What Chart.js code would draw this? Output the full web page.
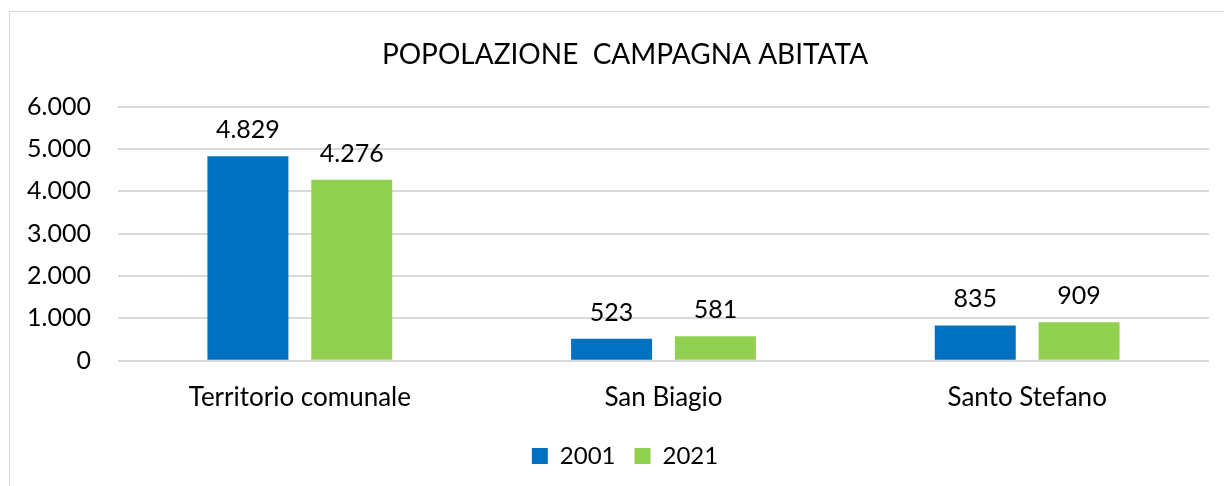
<!DOCTYPE html>
<html>
<head>
<meta charset="utf-8">
<script src="https://cdn.jsdelivr.net/npm/chart.js@4.4.1/dist/chart.umd.min.js"></script>
<style>
  html, body { margin: 0; padding: 0; background: #fff; }
  #wrap { position: relative; width: 1224px; height: 486px; overflow: hidden; }
  #frame { position: absolute; left: 9px; top: 11px; width: 1300px; height: 600px; border: 1px solid #d9d9d9; box-sizing: border-box; }
  #chart { position: absolute; left: 0; top: 0; }
</style>
</head>
<body>
<div id="wrap">
  <div id="frame"></div>
  <canvas id="chart" width="1224" height="486"></canvas>
</div>
<script>
const categories = ["Territorio comunale", "San Biagio", "Santo Stefano"];
const years = ["2001", "2021"];
const pop2001 = [4829, 523, 835];
const pop2021 = [4276, 581, 909];
const colors = ["#0070C0", "#92D050"];

const FONT = "Lato, 'Open Sans', sans-serif";

function fmt(v) {
  return String(v).replace(/\B(?=(\d{3})+(?!\d))/g, ".");
}

// draws the value above every bar
const barLabels = {
  id: "barLabels",
  afterDatasetsDraw(chart) {
    const ctx = chart.ctx;
    ctx.save();
    ctx.font = "25px " + FONT;
    ctx.fillStyle = "#000";
    ctx.textAlign = "center";
    ctx.textBaseline = "alphabetic";
    chart.data.datasets.forEach((ds, i) => {
      chart.getDatasetMeta(i).data.forEach((bar, j) => {
        ctx.fillText(fmt(ds.data[j]), bar.x, bar.y - 18);
      });
    });
    ctx.restore();
  }
};

// title and legend are centred on the whole frame, not on the plot
const centreBlocks = {
  id: "centreBlocks",
  afterLayout(chart) {
    if (chart.titleBlock) chart.titleBlock.left += 41;
    if (chart.legend) chart.legend.left += 41;
  }
};

new Chart(document.getElementById("chart"), {
  type: "bar",
  data: {
    labels: categories,
    datasets: [
      { label: years[0], data: pop2001, backgroundColor: colors[0] },
      { label: years[1], data: pop2021, backgroundColor: colors[1] }
    ]
  },
  options: {
    responsive: false,
    animation: false,
    categoryPercentage: 0.571,
    barPercentage: 0.78,
    layout: { padding: { left: 0, right: 15, top: 10, bottom: 8 } },
    plugins: {
      title: {
        display: true,
        text: "POPOLAZIONE  CAMPAGNA ABITATA",
        color: "#000",
        font: { family: FONT, size: 28, weight: "normal" },
        padding: { top: 28, bottom: 35 }
      },
      legend: {
        position: "bottom",
        labels: {
          color: "#000",
          font: { family: FONT, size: 24 },
          boxWidth: 16,
          boxHeight: 16,
          padding: 19
        }
      },
      tooltip: { enabled: false }
    },
    scales: {
      x: {
        grid: { display: false },
        border: { display: false },
        ticks: { color: "#000", font: { family: FONT, size: 26 }, padding: 13 },
        afterFit: scale => { scale.height -= 1; }
      },
      y: {
        min: 0,
        max: 6000,
        ticks: {
          stepSize: 1000,
          color: "#000",
          font: { family: FONT, size: 25 },
          padding: 27,
          callback: v => fmt(v)
        },
        grid: { color: "#d9d9d9", lineWidth: 2, drawTicks: false },
        border: { display: false },
        afterFit: scale => { scale.width = 118; }
      }
    }
  },
  plugins: [barLabels, centreBlocks]
});
</script>
</body>
</html>
